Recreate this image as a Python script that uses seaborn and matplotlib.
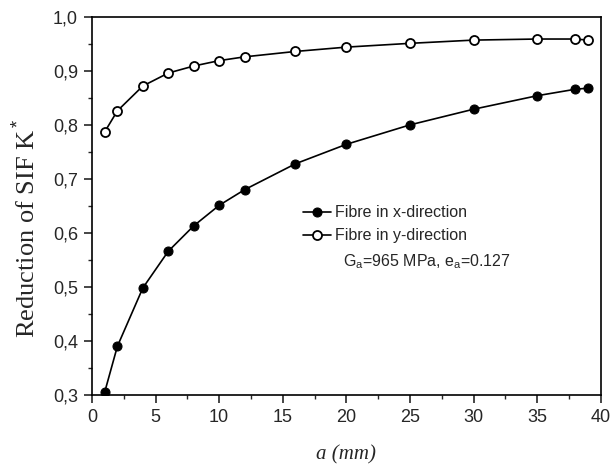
import matplotlib
matplotlib.use("Agg")
import matplotlib.pyplot as plt
import seaborn as sns
import pandas as pd
from matplotlib.ticker import MultipleLocator, FuncFormatter

a_mm = [1, 2, 4, 6, 8, 10, 12, 16, 20, 25, 30, 35, 38, 39]
fibre_x = [0.305, 0.390, 0.498, 0.566, 0.613, 0.651, 0.680, 0.728, 0.764, 0.800, 0.829, 0.854, 0.866, 0.868]
fibre_y = [0.787, 0.826, 0.872, 0.896, 0.909, 0.919, 0.926, 0.936, 0.944, 0.951, 0.957, 0.959, 0.959, 0.957]
labels = ["Fibre in x-direction", "Fibre in y-direction"]
note = r"G$_\mathrm{a}$=965 MPa, e$_\mathrm{a}$=0.127"

sns.set_theme(style="white")
plt.rcParams['font.family'] = ['Liberation Sans', 'DejaVu Sans']
plt.rcParams['mathtext.fontset'] = 'custom'
plt.rcParams['mathtext.rm'] = 'Liberation Sans'
plt.rcParams['mathtext.it'] = 'Liberation Sans:italic'

fig = plt.figure(figsize=(6.13, 4.69), dpi=100)
ax = fig.add_axes([0.150, 0.158, 0.830, 0.806])

df = pd.DataFrame({"a": a_mm, "x": fibre_x, "y": fibre_y})
sns.lineplot(data=df, x="a", y="x", ax=ax, color="black", lw=1.2, marker="o",
             markersize=6.5, markerfacecolor="black", markeredgecolor="black",
             label=labels[0])
sns.lineplot(data=df, x="a", y="y", ax=ax, color="black", lw=1.2, marker="o",
             markersize=6.5, markerfacecolor="white", markeredgecolor="black",
             markeredgewidth=1.3, label=labels[1])

ax.set_xlim(0, 40)
ax.set_ylim(0.3, 1.0)
ax.xaxis.set_major_locator(MultipleLocator(5))
ax.xaxis.set_minor_locator(MultipleLocator(2.5))
ax.yaxis.set_major_locator(MultipleLocator(0.1))
ax.yaxis.set_minor_locator(MultipleLocator(0.05))
ax.yaxis.set_major_formatter(FuncFormatter(lambda v, p: f"{v:.1f}".replace(".", ",")))
ax.tick_params(which="major", direction="out", length=6, width=1.2, labelsize=13,
               bottom=True, left=True, top=False, right=False, pad=4)
ax.tick_params(which="minor", direction="out", length=3, width=1.0,
               bottom=True, left=True, top=False, right=False)
for s in ax.spines.values():
    s.set_color("black")
    s.set_linewidth(1.2)

ax.set_xlabel("a (mm)", fontsize=15, fontstyle="italic",
              family=["Liberation Serif", "DejaVu Serif"], labelpad=14)
ax.set_ylabel(r"Reduction of SIF K$^*$", fontsize=19,
              family=["Liberation Serif", "DejaVu Serif"], labelpad=8)
ax.yaxis.set_label_coords(-0.100, 0.44)

ax.legend(loc="upper left", bbox_to_anchor=(0.415, 0.502), frameon=False,
          fontsize=11.5, handlelength=1.75, handletextpad=0.25, labelspacing=0.5,
          borderpad=0, borderaxespad=0)
ax.text(19.7, 0.546, note, fontsize=11.5, ha="left", va="center")

fig.savefig("out.png", dpi=100)
